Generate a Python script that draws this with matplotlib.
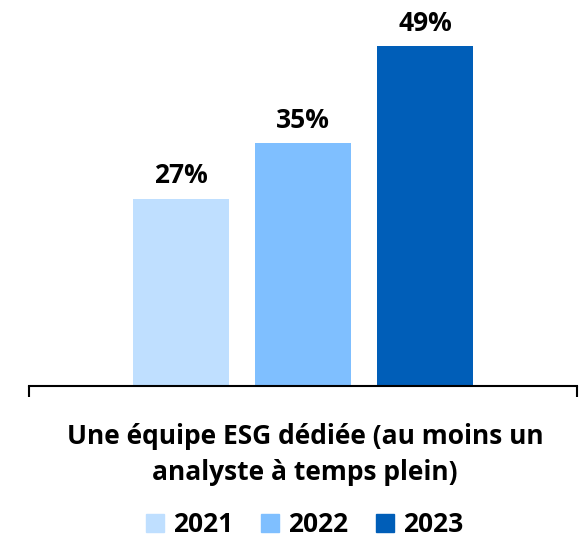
import matplotlib
matplotlib.use('Agg')
import matplotlib.pyplot as plt
from matplotlib.patches import Patch

years = ['2021', '2022', '2023']
values = [27, 35, 49]
colors = ['#BFDFFF', '#7FBFFF', '#005EB8']
category = ['Une équipe ESG dédiée (au moins un', 'analyste à temps plein)']

plt.rcParams['font.family'] = ['Open Sans', 'DejaVu Sans']
plt.rcParams['font.weight'] = 'bold'

W, H = 580, 538
fig = plt.figure(figsize=(W / 100, H / 100), dpi=100)
ax = fig.add_axes([29 / W, 1 - 386 / H, 548 / W, 386 / H])

width = 0.175
step = 0.2226
for i, (yr, v, c) in enumerate(zip(years, values, colors)):
    x = (i - 1) * step
    ax.bar(x, v, width=width, color=c, label=yr)
    ax.text(x, v + 2.2, f'{v}%', ha='center', va='baseline',
            fontsize=19, fontweight='bold')

ax.set_xlim(-0.5, 0.5)
ax.set_ylim(0, 55.6)
for s in ['top', 'right', 'left']:
    ax.spines[s].set_visible(False)
ax.spines['bottom'].set_linewidth(1.5)
ax.set_yticks([])
ax.set_xticks([-0.5, 0.5])
ax.set_xticklabels(['', ''])
ax.tick_params(axis='x', length=8, width=1.5, direction='out')

# category label (two lines)
for line, yb in zip(category, [444, 480]):
    fig.text(305 / W, 1 - yb / H, line, ha='center', va='baseline',
             fontsize=19, fontweight='bold')

handles = [Patch(color=c, label=y) for y, c in zip(years, colors)]
fig.legend(handles=handles, loc='center', bbox_to_anchor=(305 / W, 1 - 525 / H),
           ncol=3, frameon=False, fontsize=19, handlelength=0.68, handleheight=0.68,
           handletextpad=0.34, columnspacing=1.06, borderpad=0, borderaxespad=0)

fig.savefig('out.png', dpi=100)
